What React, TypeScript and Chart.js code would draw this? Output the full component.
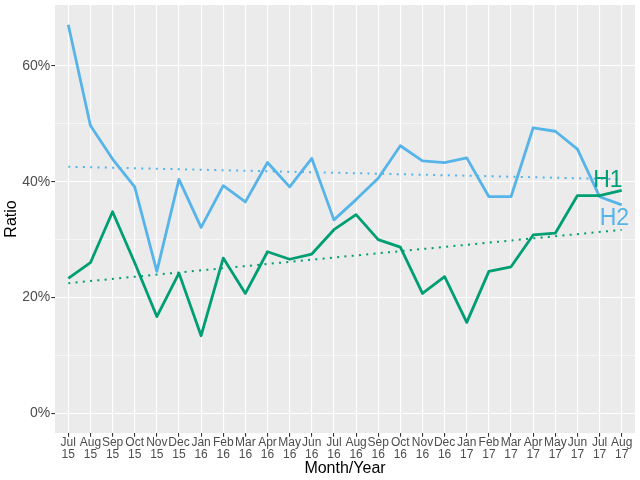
import { useEffect, useRef } from 'react';
import { Chart, registerables } from 'chart.js';

Chart.register(...registerables);

const months = ['Jul', 'Aug', 'Sep', 'Oct', 'Nov', 'Dec', 'Jan', 'Feb', 'Mar', 'Apr', 'May', 'Jun',
	'Jul', 'Aug', 'Sep', 'Oct', 'Nov', 'Dec', 'Jan', 'Feb', 'Mar', 'Apr', 'May', 'Jun', 'Jul', 'Aug'];
const years = ['15', '15', '15', '15', '15', '15', '16', '16', '16', '16', '16', '16',
	'16', '16', '16', '16', '16', '16', '17', '17', '17', '17', '17', '17', '17', '17'];

const h1 = [23.3, 26.0, 34.8, 26.0, 16.7, 24.2, 13.4, 26.8, 20.7, 27.9, 26.6, 27.5,
	31.7, 34.3, 30.0, 28.7, 20.7, 23.6, 15.7, 24.5, 25.3, 30.8, 31.1, 37.6, 37.6, 38.5];
const h2 = [67.1, 49.7, 43.9, 39.1, 24.5, 40.4, 32.1, 39.3, 36.5, 43.3, 39.1, 44.0,
	33.4, 36.9, 40.6, 46.2, 43.6, 43.3, 44.1, 37.4, 37.4, 49.3, 48.7, 45.6, 37.4, 36.0];

const yTicks = [0, 10, 20, 30, 40, 50, 60];

const GREEN = '#009E73';
const BLUE = '#56B4E9';

// least squares line over the month index
function trend(vals: number[]) {
	const n = vals.length;
	const mx = (n - 1) / 2;
	const my = vals.reduce((a, b) => a + b, 0) / n;
	let sxy = 0, sxx = 0;
	vals.forEach((v, i) => { sxy += (i - mx) * (v - my); sxx += (i - mx) * (i - mx); });
	const b = sxy / sxx;
	const a = my - b * mx;
	return [{ x: 0, y: a }, { x: n - 1, y: a + b * (n - 1) }];
}

const panelBg = {
	id: 'panelBg',
	beforeDraw(chart: any) {
		const { ctx, chartArea: a } = chart;
		ctx.save();
		ctx.fillStyle = '#EBEBEB';
		ctx.fillRect(a.left, a.top, a.right - a.left, a.bottom - a.top);
		ctx.restore();
	},
};

const endLabels = {
	id: 'endLabels',
	afterDatasetsDraw(chart: any) {
		const { ctx, scales } = chart;
		const last = months.length - 1;
		const px = scales.x.getPixelForValue(last);
		ctx.save();
		ctx.font = '23px "Liberation Sans", Arial, sans-serif';
		ctx.textAlign = 'left';
		ctx.textBaseline = 'alphabetic';
		ctx.fillStyle = GREEN;
		ctx.fillText('H1', px - 28.5, scales.y.getPixelForValue(h1[last]) - 3.4);
		ctx.fillStyle = BLUE;
		ctx.fillText('H2', px - 22, scales.y.getPixelForValue(h2[last]) + 20);
		ctx.restore();
	},
};

const noPad = (s: any) => {
	s.paddingTop = 0;
	s.paddingBottom = 0;
	s.paddingLeft = 0;
	s.paddingRight = 0;
};

export default function App() {
	const canvas = useRef<HTMLCanvasElement | null>(null);
	useEffect(() => {
		if (!canvas.current) return;
		Chart.defaults.font.family = '"Liberation Sans", Arial, sans-serif';
		const chart = new Chart(canvas.current, {
			type: 'line',
			data: {
				datasets: [
					{ label: 'H1 trend', data: trend(h1), borderColor: GREEN, borderWidth: 2, borderDash: [2, 5.3], pointRadius: 0 },
					{ label: 'H2 trend', data: trend(h2), borderColor: BLUE, borderWidth: 2, borderDash: [2, 5.3], pointRadius: 0 },
					{ label: 'H1', data: h1.map((y, i) => ({ x: i, y })), borderColor: GREEN, borderWidth: 2.8, pointRadius: 0, borderJoinStyle: 'round' },
					{ label: 'H2', data: h2.map((y, i) => ({ x: i, y })), borderColor: BLUE, borderWidth: 2.8, pointRadius: 0, borderJoinStyle: 'round' },
				],
			},
			options: {
				animation: false,
				responsive: true,
				maintainAspectRatio: false,
				layout: { padding: { top: 5, right: 5, left: 0, bottom: 0 } },
				plugins: { legend: { display: false }, tooltip: { enabled: false } },
				scales: {
					x: {
						type: 'linear',
						min: -0.6,
						max: months.length - 1 + 0.6,
						afterBuildTicks: (s: any) => { s.ticks = months.map((_, i) => ({ value: i })); },
						afterFit: (s: any) => { s.height = 47; noPad(s); },
						ticks: {
							autoSkip: false,
							maxRotation: 0,
							padding: 0,
							color: '#4d4d4d',
							font: { size: 12, lineHeight: 1 },
							callback: (v: any) => [months[v], years[v]],
						},
						grid: { color: '#ffffff', lineWidth: 1.1, tickColor: '#333333', tickLength: 3.7, tickWidth: 1.1 },
						border: { display: false },
						title: { display: true, text: 'Month/Year', color: '#000', font: { size: 16 }, padding: { top: 0, bottom: 1.5 } },
					},
					y: {
						type: 'linear',
						min: -3.4,
						max: 70.5,
						afterBuildTicks: (s: any) => { s.ticks = yTicks.map((value) => ({ value })); },
						afterFit: (s: any) => { s.width = 55; noPad(s); },
						ticks: {
							padding: 1,
							color: '#4d4d4d',
							font: { size: 14 },
							callback: (v: any) => (v % 20 === 0 ? v + '%' : ''),
						},
						grid: {
							color: '#ffffff',
							lineWidth: (c: any) => (c.tick && c.tick.value % 20 === 0 ? 1.1 : 0.55),
							tickColor: (c: any) => (c.tick && c.tick.value % 20 === 0 ? '#333333' : 'rgba(0,0,0,0)'),
							tickLength: 3.7,
							tickWidth: 1.1,
						},
						border: { display: false },
						title: { display: true, text: 'Ratio', color: '#000', font: { size: 16 }, padding: { top: 1.5, bottom: 0 } },
					},
				},
			},
			plugins: [panelBg, endLabels],
		});
		return () => chart.destroy();
	}, []);

	return (
		<div style={{ position: 'fixed', left: 0, top: 0, width: 640, height: 480, background: '#fff' }}>
			<canvas ref={canvas}></canvas>
		</div>
	);
}
